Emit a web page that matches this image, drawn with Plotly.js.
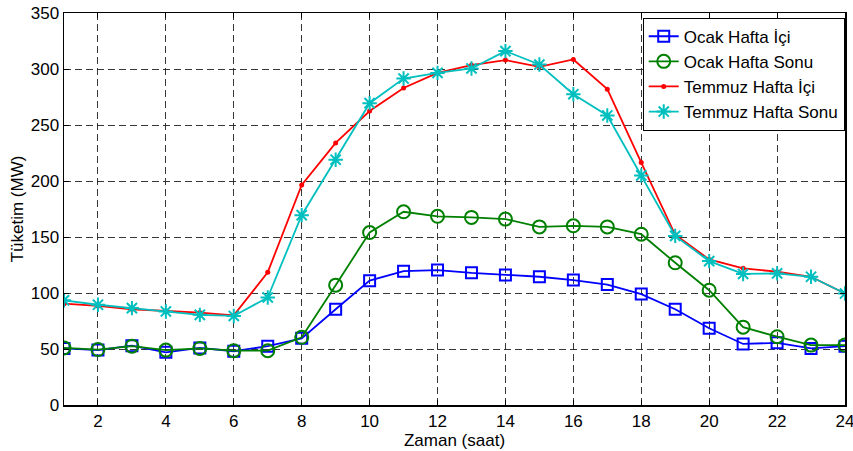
<!DOCTYPE html>
<html>
<head>
<meta charset="utf-8">
<script src="https://cdn.plot.ly/plotly-3.0.1.min.js"></script>
<style>html,body{margin:0;padding:0;background:#fff;}#chart{width:853px;height:451px;}</style>
</head>
<body>
<div id="chart"></div>
<script>
const hours = [1,2,3,4,5,6,7,8,9,10,11,12,13,14,15,16,17,18,19,20,21,22,23,24];
const ocakHaftaIci = [50.5,49,53,47,51,48,52.5,59.5,85.5,111,119.5,120.5,118,116,114.5,111.5,107.5,99,85.5,68.5,54.5,55.5,50.5,52.5];
const ocakHaftaSonu = [51,49.5,52.5,49,50.5,48.5,48.5,60.5,107,154,172.5,168.5,167.5,166,159,160,159,152.5,127,102.5,69.5,61,53.5,53.5];
const temmuzHaftaIci = [90.5,88.5,85.5,84,82.5,80,118.5,196.5,234,262.5,283,296.5,303.5,308,302,308.5,282,216.5,152,130,122,119,114.5,99.5];
const temmuzHaftaSonu = [93.5,89.5,86.5,83.5,80.5,79.5,96,169.5,219,269.5,291.5,296.5,300.5,316,304,277.5,258.5,205,151,128.5,117,117.5,114.5,99.5];
const seriesNames = ['Ocak Hafta İçi','Ocak Hafta Sonu','Temmuz Hafta İçi','Temmuz Hafta Sonu'];
const xTicks = [2,4,6,8,10,12,14,16,18,20,22,24];
const yTicks = [0,50,100,150,200,250,300,350];

const traces = [
  {x: hours, y: ocakHaftaIci, name: seriesNames[0], mode: 'lines+markers',
   line: {color: '#0000ff', width: 1.8},
   marker: {symbol: 'square-open', size: 11, color: '#0000ff', line: {width: 2}}},
  {x: hours, y: ocakHaftaSonu, name: seriesNames[1], mode: 'lines+markers',
   line: {color: '#008000', width: 1.8},
   marker: {symbol: 'circle-open', size: 13, color: '#008000', line: {width: 2}}},
  {x: hours, y: temmuzHaftaIci, name: seriesNames[2], mode: 'lines+markers',
   line: {color: '#ff0000', width: 1.8},
   marker: {symbol: 'circle', size: 5, color: '#ff0000'}},
  {x: hours, y: temmuzHaftaSonu, name: seriesNames[3], mode: 'lines+markers',
   line: {color: '#00bfbf', width: 1.8},
   marker: {symbol: 'asterisk-open', size: 12, color: '#00bfbf', line: {width: 2, color: '#00bfbf'}}}
];

const font = {family: 'Liberation Sans, Arial, sans-serif', size: 17, color: '#000'};
const layout = {
  width: 853, height: 451,
  margin: {l: 64, r: 8, t: 13, b: 46},
  paper_bgcolor: '#fff', plot_bgcolor: '#fff',
  font: font,
  showlegend: true,
  legend: {x: 0.741, y: 0.988, xanchor: 'left', yanchor: 'top',
    bgcolor: '#fff', bordercolor: '#000', borderwidth: 1,
    font: {family: font.family, size: 17, color: '#000'},
    tracegroupgap: 0, itemwidth: 30},
  xaxis: {range: [1, 24], tickvals: xTicks, ticktext: xTicks.map(String),
    tickfont: {size: 17}, ticklabeloverflow: 'allow',
    showgrid: true, gridcolor: '#222', griddash: '7px,4px', gridwidth: 0.9,
    showline: true, linecolor: '#000', linewidth: 1.5, mirror: 'ticks',
    ticks: 'inside', ticklen: 5, tickcolor: '#000', zeroline: false,
    title: {text: 'Zaman (saat)', font: {size: 17}, standoff: 0}},
  yaxis: {range: [0, 350], tickvals: yTicks, ticktext: yTicks.map(String),
    tickfont: {size: 17},
    showgrid: true, gridcolor: '#222', griddash: '7px,4px', gridwidth: 0.9,
    showline: true, linecolor: '#000', linewidth: 1.5, mirror: 'ticks',
    ticks: 'inside', ticklen: 5, tickcolor: '#000', zeroline: false,
    title: {text: 'Tüketim (MW)', font: {size: 17}, standoff: 3}}
};
Plotly.newPlot('chart', traces, layout, {displayModeBar: false, staticPlot: true});
</script>
</body>
</html>
